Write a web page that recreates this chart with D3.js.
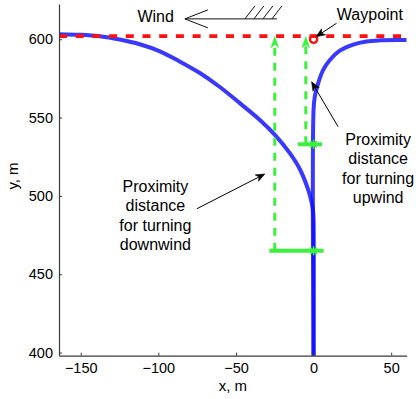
<!DOCTYPE html>
<html>
<head>
<meta charset="utf-8">
<script src="https://cdn.jsdelivr.net/npm/d3@7"></script>
<style>
  body { margin: 0; background: #fff; }
  svg { display: block; }
  text { font-family: "Liberation Sans", Arial, Helvetica, sans-serif; fill: #000; }
</style>
</head>
<body>
<svg id="chart" width="416" height="399"></svg>
<script>
// Trajectory when the turn is made downwind (x, y in metres)
const downwindX = [-164, -150, -138, -125, -112, -99, -86, -73, -61, -47.5, -34.6, -24.9, -15.3, -8.8, -3.5, -1.3, -0.3, 0, 0];
const downwindY = [603.2, 602.8, 601.9, 599.8, 596.8, 592.3, 585.7, 578.3, 570, 559.2, 548.5, 539, 527.3, 517, 504, 496, 490, 484, 398];

// Trajectory when the turn is made upwind
const upwindX = [0, 0, 0.8, 3, 6.2, 10.5, 16.9, 25.5, 34.1, 42.7, 55.6, 60];
const upwindY = [398, 555, 563.4, 572, 580.4, 586.8, 592.7, 596.6, 598.6, 599.3, 599.5, 599.5];

// Waypoint and the desired track through it
const waypoint = [0, 600];
const trackY = 602;
const trackX = [-164, 60];

// Proximity distances: turn start points and the guides up to the track
const proxNames = ["downwind", "upwind"];
const proxGuideX = [-25, -5];
const proxStartY = [465, 533];
const proxBarLeft = [-28.5, -10];
const proxBarRight = [6.5, 5.5];

// Axes
const xDomain = [-164, 60];
const yDomain = [398, 622.5];
const xTicks = [-150, -100, -50, 0, 50];
const yTicks = [400, 450, 500, 550, 600];

const margin = { left: 59, top: 4, right: 9.3, bottom: 43.3 };
const W = 416, H = 399;
const svg = d3.select("#chart");

const x = d3.scaleLinear().domain(xDomain).range([margin.left, W - margin.right]);
const y = d3.scaleLinear().domain(yDomain).range([H - margin.bottom, margin.top]);

const blue = "#0c0cff";
const green = "#3ef03e";
const red = "#ff1010";

// clip to plot area
svg.append("defs").append("clipPath").attr("id", "plotclip")
  .append("rect")
  .attr("x", x(xDomain[0])).attr("y", y(yDomain[1]))
  .attr("width", x(xDomain[1]) - x(xDomain[0]))
  .attr("height", y(yDomain[0]) - y(yDomain[1]));

const plot = svg.append("g").attr("clip-path", "url(#plotclip)");

// flight paths
const line = d3.line().x(d => x(d[0])).y(d => y(d[1])).curve(d3.curveCatmullRom.alpha(0.5));
const dw = downwindX.map((v, i) => [v, downwindY[i]]);
const uw = upwindX.map((v, i) => [v, upwindY[i]]);
[dw, uw].forEach(pts => {
  plot.append("path").datum(pts).attr("d", line)
    .attr("fill", "none").attr("stroke", blue)
    .attr("stroke-width", 4).attr("stroke-opacity", 0.82)
    .attr("stroke-linejoin", "round");
});

// desired track
plot.append("line")
  .attr("x1", x(trackX[0])).attr("x2", x(trackX[1]))
  .attr("y1", y(trackY)).attr("y2", y(trackY))
  .attr("stroke", red).attr("stroke-width", 3.8)
  .attr("stroke-dasharray", "8 8.7");

// filled notched arrowhead helper
function head(g, tx, ty, angle, len, half, color) {
  const ca = Math.cos(angle), sa = Math.sin(angle);
  const pt = (a, b) => [tx - a * ca - b * sa, ty - a * sa + b * ca];
  const p = [pt(0, 0), pt(len, half), pt(len * 0.72, 0), pt(len, -half)];
  g.append("path").attr("d", "M" + p.map(q => q.join(",")).join("L") + "Z")
    .attr("fill", color).attr("stroke", color).attr("stroke-width", 0.6)
    .attr("stroke-linejoin", "miter");
}

// proximity guides
proxNames.forEach((n, i) => {
  const gx = x(proxGuideX[i]);
  plot.append("line")
    .attr("x1", gx).attr("x2", gx)
    .attr("y1", y(proxStartY[i])).attr("y2", y(trackY) + 8)
    .attr("stroke", green).attr("stroke-width", 3)
    .attr("stroke-dasharray", "8 7");
  head(plot, gx, y(trackY) + 0.5, -Math.PI / 2, 11, 3.8, green);
  plot.append("line")
    .attr("x1", x(proxBarLeft[i])).attr("x2", x(proxBarRight[i]))
    .attr("y1", y(proxStartY[i])).attr("y2", y(proxStartY[i]))
    .attr("stroke", green).attr("stroke-width", 4);
  // asterisk marker at the turn start
  const cx = x(0), cy = y(proxStartY[i]), r = 4.5;
  const star = [[0, -r, 0, r], [-r, 0, r, 0], [-r * 0.72, -r * 0.72, r * 0.72, r * 0.72], [-r * 0.72, r * 0.72, r * 0.72, -r * 0.72]];
  star.forEach(s => plot.append("line")
    .attr("x1", cx + s[0]).attr("y1", cy + s[1]).attr("x2", cx + s[2]).attr("y2", cy + s[3])
    .attr("stroke", green).attr("stroke-width", 1.6));
});

// waypoint marker
plot.append("circle")
  .attr("cx", x(waypoint[0])).attr("cy", y(waypoint[1])).attr("r", 3.6)
  .attr("fill", "none").attr("stroke", red).attr("stroke-width", 2.4);

// axes
const axisColor = "#3a3a3a";
const fmt = d3.format("");
const xAxis = svg.append("g").attr("transform", `translate(0,${y(yDomain[0])})`)
  .call(d3.axisBottom(x).tickValues(xTicks).tickSizeInner(-3).tickSizeOuter(0).tickPadding(7).tickFormat(fmt));
const yAxis = svg.append("g").attr("transform", `translate(${x(xDomain[0])},0)`)
  .call(d3.axisLeft(y).tickValues(yTicks).tickSizeInner(-3).tickSizeOuter(0).tickPadding(6).tickFormat(fmt));
[xAxis, yAxis].forEach(a => {
  a.select(".domain").attr("stroke", axisColor).attr("stroke-width", 1.2);
  a.selectAll(".tick line").attr("stroke", axisColor);
  a.selectAll(".tick text").attr("fill", "#000").attr("font-size", 14.5)
    .attr("font-family", "'Liberation Sans', Arial, sans-serif");
});

svg.append("text").attr("x", (x(xDomain[0]) + x(xDomain[1])) / 2).attr("y", 390.7)
  .attr("text-anchor", "middle").attr("font-size", 15).text("x, m");
svg.append("text").attr("transform", "translate(18,176) rotate(-90)")
  .attr("text-anchor", "middle").attr("font-size", 15).text("y, m");

// annotations
const ann = svg.append("g");
function pointer(x1, y1, x2, y2) {
  const a = Math.atan2(y2 - y1, x2 - x1);
  const L = 9;
  ann.append("line").attr("x1", x1).attr("y1", y1)
    .attr("x2", x2 - Math.cos(a) * L * 0.7).attr("y2", y2 - Math.sin(a) * L * 0.7)
    .attr("stroke", "#000").attr("stroke-width", 1);
  head(ann, x2, y2, a, L, 3.6, "#000");
}
function block(cx, firstBaseline, lines) {
  lines.forEach((t, i) => ann.append("text")
    .attr("x", cx).attr("y", firstBaseline + i * 19.5)
    .attr("text-anchor", "middle").attr("font-size", 16).text(t));
}

// wind
ann.append("text").attr("x", x(-90)).attr("y", y(611)).attr("text-anchor", "end")
  .attr("font-size", 16).text("Wind");
const wy = y(613), wTip = x(-82.9), wTail = x(-23.6);
ann.append("line").attr("x1", wTip).attr("x2", wTail).attr("y1", wy).attr("y2", wy)
  .attr("stroke", "#111").attr("stroke-width", 1);
ann.append("path")
  .attr("d", `M${wTip + 23},${wy - 9}L${wTip},${wy}L${wTip + 23},${wy + 9}`)
  .attr("fill", "none").attr("stroke", "#111").attr("stroke-width", 1);
[0, 1, 2, 3].forEach(k => {
  const bx = wTail - 32 + k * 9;
  ann.append("line").attr("x1", bx).attr("y1", wy).attr("x2", bx + 10).attr("y2", wy - 13)
    .attr("stroke", "#111").attr("stroke-width", 1);
});

// waypoint label
ann.append("text").attr("x", x(36.3)).attr("y", y(612.3)).attr("text-anchor", "middle")
  .attr("font-size", 16).text("Waypoint");
pointer(x(14.8), y(610.2), x(1.6), y(601.6));

// proximity labels
block(x(41.6), y(532.5), ["Proximity", "distance", "for turning", "upwind"]);
pointer(x(15.8), y(544.2), x(-1.3), y(572.9));
block(x(-101.9), y(502.8), ["Proximity", "distance", "for turning", "downwind"]);
pointer(x(-75.2), y(491.8), x(-31.4), y(514));
</script>
</body>
</html>
